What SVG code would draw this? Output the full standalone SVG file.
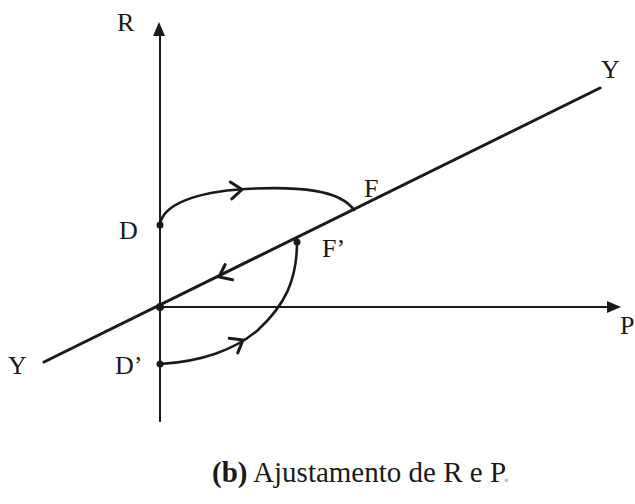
<svg xmlns="http://www.w3.org/2000/svg" width="635" height="504" viewBox="0 0 635 504">
<style>
  .lbl { font-family: "Liberation Serif", "Times New Roman", serif; font-size: 26px; fill: #1a1a1a; }
  .cap { font-family: "Liberation Serif", "Times New Roman", serif; font-size: 29px; fill: #1a1a1a; }
  .axis { stroke: #1a1a1a; stroke-width: 2; fill: none; }
  .yline { stroke: #1a1a1a; stroke-width: 3; fill: none; stroke-linecap: round; }
  .arc { stroke: #1a1a1a; stroke-width: 2.6; fill: none; stroke-linecap: round; }
  .dot { fill: #1a1a1a; }
  .head { fill: #1a1a1a; }
  .chev { fill: none; stroke: #1a1a1a; stroke-width: 3; stroke-linecap: round; stroke-linejoin: miter; }
</style>
<defs>
  <path id="ah" class="chev" d="M-11,-8.5 L0,0 L-11,8.5"/>
</defs>
<rect width="635" height="504" fill="#ffffff"/>
<g id="connectors">
  <!-- R axis -->
  <line class="axis" x1="160" y1="32" x2="160" y2="422"/>
  <path class="head" d="M159,22 L165,36 L153,36 Z"/>
  <!-- P axis -->
  <line class="axis" x1="160" y1="307" x2="610" y2="307"/>
  <path class="head" d="M621,307 L607,301 L607,313 Z"/>
  <!-- Y line -->
  <line class="yline" x1="44" y1="362" x2="600" y2="88"/>
  <use href="#ah" transform="translate(219,277) rotate(153.8)"/>
  <!-- D to F arc -->
  <path class="arc" d="M160,225 C162,205 195,192 245,189 C300,186 340,190 354,210"/>
  <use href="#ah" transform="translate(242,189.5) rotate(-5)"/>
  <!-- D' to F' arc -->
  <path class="arc" d="M160,364 C200,362 235,350 258,330 C285,305 297,280 297,242"/>
  <use href="#ah" transform="translate(243,340) rotate(-30)"/>
</g>
<g id="node-origin"><circle class="dot" cx="160" cy="307" r="4"/></g>
<g id="node-D"><circle class="dot" cx="160" cy="225" r="3.5"/><text class="lbl" x="119" y="239">D</text></g>
<g id="node-Dp"><circle class="dot" cx="160" cy="364" r="3.5"/><text class="lbl" x="115" y="374">D’</text></g>
<g id="node-F"><text class="lbl" x="364" y="197">F</text></g>
<g id="node-Fp"><circle class="dot" cx="297" cy="242" r="3.5"/><text class="lbl" x="322" y="257">F’</text></g>
<g id="node-R"><text class="lbl" x="117" y="31">R</text></g>
<g id="node-P"><text class="lbl" x="620" y="334">P</text></g>
<g id="node-Yleft"><text class="lbl" x="8" y="374">Y</text></g>
<g id="node-Yright"><text class="lbl" x="601" y="78">Y</text></g>
<g id="caption"><text class="cap" x="212" y="482"><tspan font-weight="bold">(b)</tspan> Ajustamento de R e P<tspan fill="#bbbbbb">.</tspan></text></g>
</svg>
